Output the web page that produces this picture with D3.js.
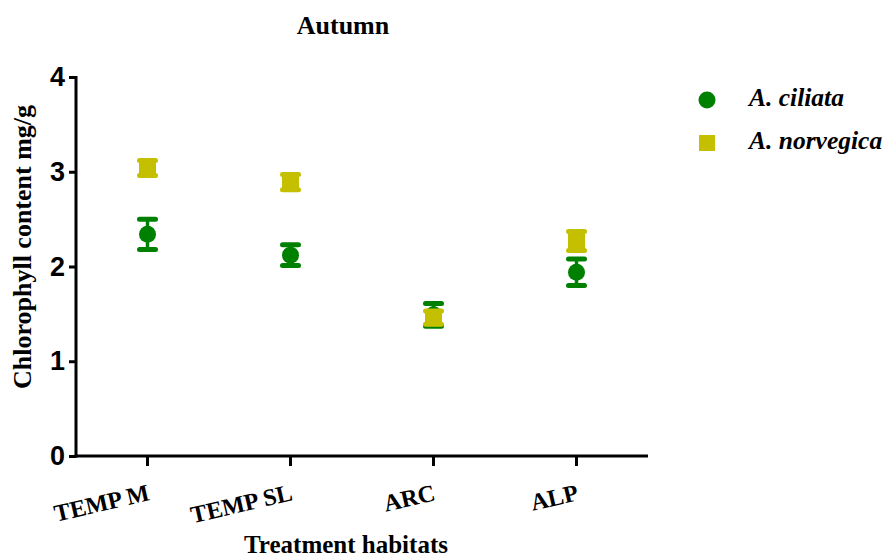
<!DOCTYPE html>
<html><head><meta charset="utf-8">
<script src="https://cdn.jsdelivr.net/npm/d3@7"></script>
<style>body{margin:0;background:#fff}svg{display:block}</style>
</head><body>
<script>
const categories = ["TEMP M", "TEMP SL", "ARC", "ALP"];
const ciliataMean = [2.34, 2.12, 1.49, 1.94];
const ciliataErr  = [0.16, 0.11, 0.12, 0.14];
const norvegicaMean = [3.04, 2.89, 1.46, 2.27];
const norvegicaErr  = [0.08, 0.08, 0.07, 0.10];
const yTicks = [0, 1, 2, 3, 4];
const seriesNames = ["A. ciliata", "A. norvegica"];
const colors = ["#008000", "#c4c000"];

const W = 886, H = 558;
const m = {left: 76, right: 238, top: 77, bottom: 102};
const serif = "Liberation Serif, Times New Roman, serif";
const svg = d3.select("body").append("svg").attr("width", W).attr("height", H);

const x = d3.scaleBand().domain(categories).range([m.left, W - m.right]).paddingInner(0).paddingOuter(0);
const y = d3.scaleLinear().domain([0, 4]).range([H - m.bottom, m.top]);

// axes
const yAxis = svg.append("g").attr("transform", `translate(${m.left},0)`)
  .call(d3.axisLeft(y).tickValues(yTicks).tickFormat(d3.format("d")).tickSize(7).tickPadding(4));
yAxis.select(".domain").attr("stroke-width", 3).attr("d", `M0,${y(4)-1}V${y(0)+1.5}`);
yAxis.selectAll(".tick line").attr("stroke-width", 3);
yAxis.selectAll(".tick text").attr("font-family", "Liberation Sans, Arial, sans-serif")
  .attr("font-weight", "bold").attr("font-size", 27).attr("fill", "#000");

const xAxis = svg.append("g").attr("transform", `translate(0,${y(0)})`)
  .call(d3.axisBottom(x).tickSize(10).tickSizeOuter(0).tickPadding(0));
xAxis.select(".domain").attr("stroke-width", 3).attr("d", `M${m.left-1.5},0H${W - m.right}`);
xAxis.selectAll(".tick line").attr("stroke-width", 3).attr("y1", 1);
xAxis.selectAll(".tick text").attr("font-family", serif)
  .attr("font-weight", "bold").attr("font-size", 24).attr("fill", "#000")
  .attr("text-anchor", "end").attr("y", 0).attr("dy", 0)
  .attr("transform", "translate(3,44) rotate(-13)");

// data series
const series = [
  {name: seriesNames[0], mean: ciliataMean, err: ciliataErr, color: colors[0], shape: "circle"},
  {name: seriesNames[1], mean: norvegicaMean, err: norvegicaErr, color: colors[1], shape: "square"}
];
const capW = 16;
series.forEach(s => {
  const g = svg.append("g");
  categories.forEach((c, i) => {
    const cx = x(c) + x.bandwidth() / 2;
    const lo = y(s.mean[i] - s.err[i]), hi = y(s.mean[i] + s.err[i]);
    g.append("line").attr("x1", cx).attr("x2", cx).attr("y1", lo).attr("y2", hi)
      .attr("stroke", s.color).attr("stroke-width", 3.5);
    [lo, hi].forEach(yy => g.append("line").attr("x1", cx - capW/2).attr("x2", cx + capW/2)
      .attr("y1", yy).attr("y2", yy).attr("stroke", s.color).attr("stroke-width", 5).attr("stroke-linecap", "round"));
    if (s.shape === "circle") {
      g.append("circle").attr("cx", cx).attr("cy", y(s.mean[i])).attr("r", 8.5).attr("fill", s.color);
    } else {
      g.append("rect").attr("x", cx - 8.5).attr("y", y(s.mean[i]) - 8.5).attr("width", 17).attr("height", 17).attr("fill", s.color);
    }
  });
});

// title
svg.append("text").attr("x", 343).attr("y", 34).attr("text-anchor", "middle")
  .attr("font-family", serif).attr("font-weight", "bold")
  .attr("font-size", 26).text("Autumn");
// y title
svg.append("text").attr("transform", `translate(31,247) rotate(-90)`).attr("text-anchor", "middle")
  .attr("font-family", serif).attr("font-weight", "bold")
  .attr("font-size", 26).text("Chlorophyll content mg/g");
// x title
svg.append("text").attr("x", 346).attr("y", 553).attr("text-anchor", "middle")
  .attr("font-family", serif).attr("font-weight", "bold")
  .attr("font-size", 25).text("Treatment habitats");

// legend
const leg = svg.append("g");
series.forEach((s, i) => {
  const ly = 100 + i * 43;
  if (s.shape === "circle") leg.append("circle").attr("cx", 707).attr("cy", ly).attr("r", 8.5).attr("fill", s.color);
  else leg.append("rect").attr("x", 699).attr("y", ly - 8).attr("width", 16).attr("height", 16).attr("fill", s.color);
  leg.append("text").attr("x", 749).attr("y", ly + 6)
    .attr("font-family", serif).attr("font-weight", "bold")
    .attr("font-style", "italic").attr("font-size", 25.5).text(s.name);
});
</script>
</body></html>
